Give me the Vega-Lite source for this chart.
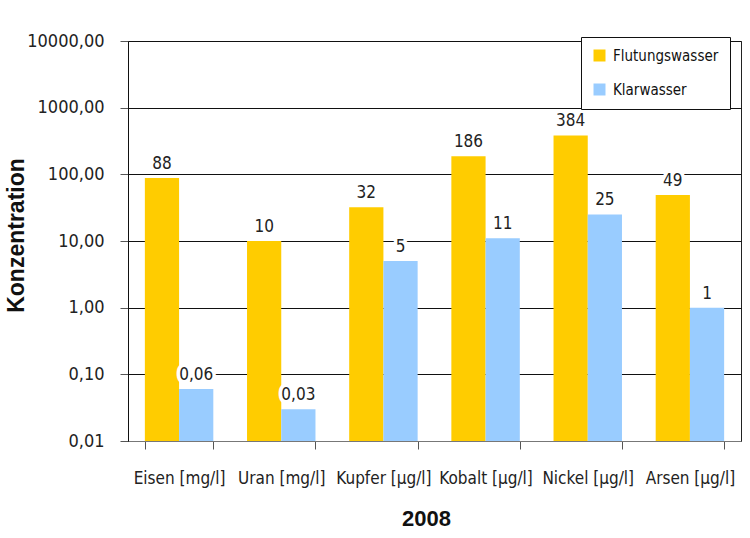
{
  "$schema": "https://vega.github.io/schema/vega-lite/v6.json",
  "width": 613,
  "height": 400,
  "autosize": {"type": "none"},
  "padding": {"left": 128, "top": 41, "right": 9, "bottom": 97},
  "background": "white",
  "data": {
    "values": [
      {"element": "Eisen [mg/l]", "series": "Flutungswasser", "value": 88},
      {"element": "Eisen [mg/l]", "series": "Klarwasser", "value": 0.06},
      {"element": "Uran [mg/l]", "series": "Flutungswasser", "value": 10},
      {"element": "Uran [mg/l]", "series": "Klarwasser", "value": 0.03},
      {"element": "Kupfer [µg/l]", "series": "Flutungswasser", "value": 32},
      {"element": "Kupfer [µg/l]", "series": "Klarwasser", "value": 5},
      {"element": "Kobalt [µg/l]", "series": "Flutungswasser", "value": 186},
      {"element": "Kobalt [µg/l]", "series": "Klarwasser", "value": 11},
      {"element": "Nickel [µg/l]", "series": "Flutungswasser", "value": 384},
      {"element": "Nickel [µg/l]", "series": "Klarwasser", "value": 25},
      {"element": "Arsen [µg/l]", "series": "Flutungswasser", "value": 49},
      {"element": "Arsen [µg/l]", "series": "Klarwasser", "value": 1}
    ]
  },
  "encoding": {
    "x": {
      "field": "element",
      "type": "nominal",
      "sort": null,
      "scale": {"paddingInner": 0.33, "paddingOuter": 0.165},
      "axis": {
        "title": "2008",
        "labelAngle": 0,
        "labelFont": "DejaVu Sans Condensed, Roboto Condensed, Roboto",
        "labelFontSize": 17,
        "labelColor": "#222",
        "labelPadding": 21,
        "tickBand": "extent",
        "tickSize": 8,
        "tickColor": "#555",
        "domainColor": "#777",
        "titleFont": "Liberation Sans",
        "titleFontWeight": "bold",
        "titleFontSize": 22,
        "titleColor": "#111",
        "titleBaseline": "alphabetic",
        "titleX": 298,
        "titleY": 84
      }
    },
    "xOffset": {
      "field": "series",
      "type": "nominal",
      "scale": {"paddingInner": 0, "paddingOuter": 0}
    },
    "y": {
      "field": "value",
      "type": "quantitative",
      "stack": null,
      "scale": {"type": "log", "domain": [0.01, 10000], "nice": false},
      "axis": {
        "title": "Konzentration",
        "values": [0.01, 0.1, 1, 10, 100, 1000, 10000],
        "format": ".2f",
        "labelFont": "DejaVu Sans Condensed, Roboto Condensed, Roboto",
        "labelFontSize": 18,
        "labelColor": "#222",
        "labelPadding": 16,
        "tickSize": 8,
        "tickColor": "#555",
        "domainColor": "#111",
        "grid": true,
        "gridColor": "#111",
        "gridWidth": 1,
        "titleFont": "Liberation Sans",
        "titleFontWeight": "bold",
        "titleFontSize": 23,
        "titleColor": "#111",
        "titleX": -100,
        "titleY": 194
      }
    }
  },
  "layer": [
    {
      "mark": {"type": "bar"},
      "encoding": {
        "color": {
          "field": "series",
          "type": "nominal",
          "scale": {"domain": ["Flutungswasser", "Klarwasser"], "range": ["#FFCC00", "#99CCFF"]},
          "legend": {
            "title": null,
            "orient": "none",
            "legendX": 453,
            "legendY": -4,
            "fillColor": "white",
            "strokeColor": "#111",
            "padding": 11,
            "rowPadding": 18,
            "symbolType": "square",
            "symbolSize": 144,
            "symbolStrokeWidth": 0,
            "labelFont": "DejaVu Sans Condensed, Roboto Condensed, Roboto",
            "labelFontSize": 15,
            "labelColor": "#111",
            "labelOffset": 6
          }
        }
      }
    },
    {
      "mark": {
        "type": "text",
        "baseline": "alphabetic",
        "dy": -9,
        "font": "DejaVu Sans Condensed, Roboto Condensed, Roboto",
        "fontSize": 17,
        "fill": "white",
        "stroke": "white",
        "strokeWidth": 7,
        "strokeJoin": "miter"
      },
      "encoding": {
        "text": {"field": "value", "type": "quantitative", "format": "~g"}
      }
    },
    {
      "mark": {
        "type": "text",
        "baseline": "alphabetic",
        "dy": -9,
        "font": "DejaVu Sans Condensed, Roboto Condensed, Roboto",
        "fontSize": 17,
        "fill": "#222"
      },
      "encoding": {
        "text": {"field": "value", "type": "quantitative", "format": "~g"}
      }
    }
  ],
  "config": {
    "locale": {
      "number": {"decimal": ",", "thousands": ".", "grouping": [3], "currency": ["", " €"]}
    },
    "view": {"stroke": "#222", "strokeWidth": 1}
  }
}
